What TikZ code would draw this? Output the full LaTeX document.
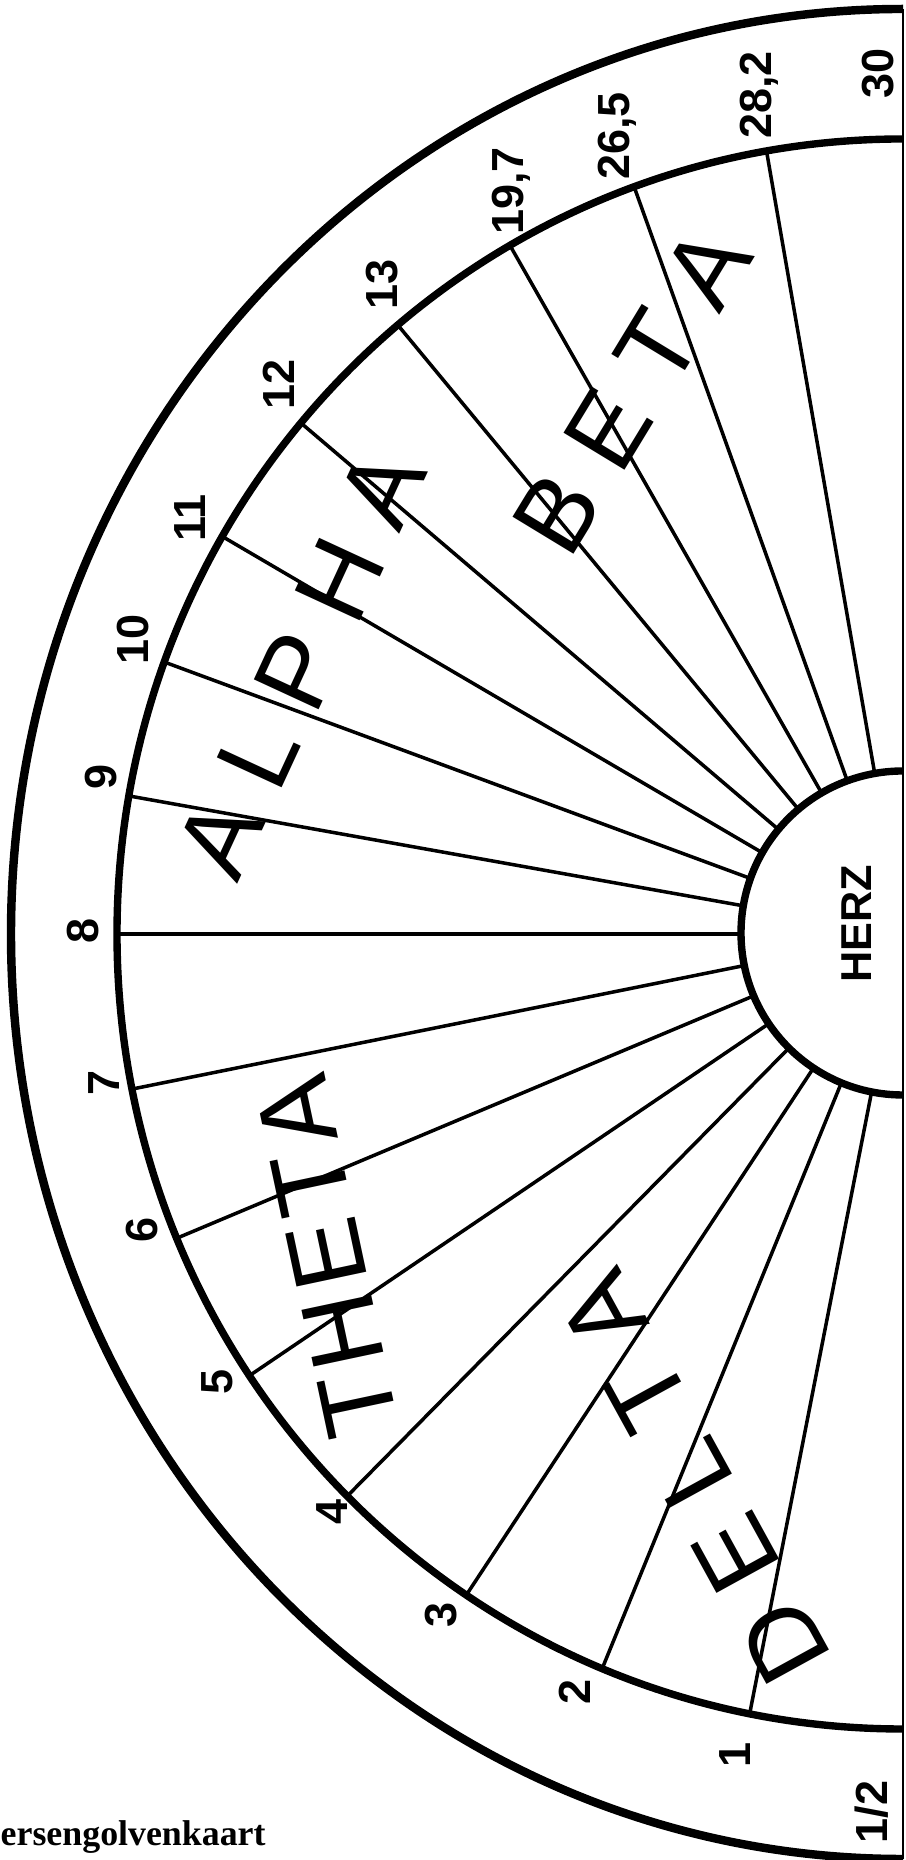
\documentclass[tikz,border=0pt]{standalone}
\usepackage{fontspec}
\setmainfont{Liberation Serif}
\newfontfamily\arial{Liberation Sans}
\usepackage{tikz}
\usetikzlibrary{calc}
\tikzset{
  rand/.style={line width=2.4pt},
  ring/.style={line width=2.1pt},
  spaak/.style={line width=1pt},
  getal/.style={font=\arial\bfseries\fontsize{12.8}{12.8}\selectfont,rotate=90,inner sep=0pt},
  golf/.style={font=\arial\fontsize{29.5}{29.5}\selectfont,inner sep=0pt},
  titel/.style={font=\bfseries\fontsize{10.2}{10.2}\selectfont,inner sep=0pt},
}

\begin{document}
\begin{tikzpicture}
  \useasboundingbox (0,0) rectangle (9.05,18.60);
  \begin{scope}[shift={(9.03,9.26)}]
    % buitenrand, schaalring en hart
    \draw[rand] (0,9.25) arc[start angle=90,end angle=270,x radius=8.92,y radius=9.25];
    \draw[ring] (0,7.95) arc[start angle=90,end angle=270,x radius=7.86,y radius=7.95];
    \draw[ring] (0,1.63) arc[start angle=90,end angle=270,radius=1.62];
    \draw[line width=0.8pt] (0,9.25) -- (0,-9.25);
    % spaken
    \foreach \a in {100,110,...,180}
      \draw[spaak] (\a:1.62) -- (\a:7.86cm and 7.95cm);
    \foreach \i in {1,...,7}
      \draw[spaak] ({180+11.25*\i}:1.62) -- ({180+11.25*\i}:7.86cm and 7.95cm);
    % getallen
    \node[getal] (g30) at (-0.25,8.60) {30};
    \node[getal] (g282) at (-1.44,8.39) {28,2};
    \node[getal] (g265) at (-2.86,7.98) {26,5};
    \node[getal] (g197) at (-3.92,7.43) {19,7};
    \node[getal] (g13) at (-5.21,6.49) {13};
    \node[getal] (g12) at (-6.24,5.49) {12};
    \node[getal] (g11) at (-7.13,4.16) {11};
    \node[getal] (g10) at (-7.70,2.94) {10};
    \node[getal] (g9) at (-8.02,1.57) {9};
    \node[getal] (g8) at (-8.20,0.03) {8};
    \node[getal] (g7) at (-7.99,-1.49) {7};
    \node[getal] (g6) at (-7.61,-2.96) {6};
    \node[getal] (g5) at (-6.86,-4.48) {5};
    \node[getal] (g4) at (-5.71,-5.78) {4};
    \node[getal] (g3) at (-4.62,-6.81) {3};
    \node[getal] (g2) at (-3.28,-7.58) {2};
    \node[getal] (g1) at (-1.68,-8.21) {1};
    \node[getal] (ghalf) at (-0.31,-8.78) {1/2};
    \node[getal,font=\arial\bfseries\fontsize{12.3}{12.3}\selectfont] (herz) at (-0.46,0.10) {HERZ};
  \end{scope}
  % golven
  \node[golf,rotate=65.2] (alpha) at (3.01,11.97) {A L P H A};
  \node[golf,rotate=58.7] (beta) at (6.32,14.70) {B E T A};
  \node[golf,rotate=102] (theta) at (3.27,6.03) {T\kern.06em H\kern.06em E\kern.06em T\kern.06em A};
  \node[golf,rotate=118.8] (delta) at (6.94,3.82) {D E L T A};
  \node[titel,anchor=base west] (titel) at (0,0.14) {ersengolvenkaart};
\end{tikzpicture}
\end{document}
